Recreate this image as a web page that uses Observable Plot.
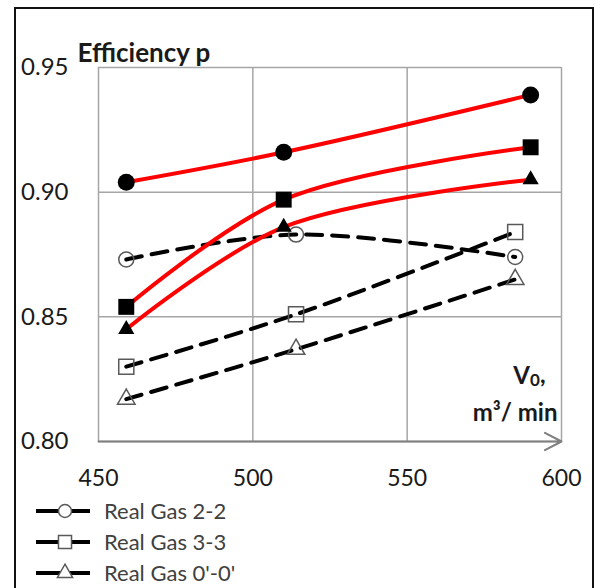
<!DOCTYPE html>
<html><head><meta charset="utf-8">
<script src="https://cdn.jsdelivr.net/npm/d3@7"></script>
<script src="https://cdn.jsdelivr.net/npm/@observablehq/plot@0.6"></script>
<style>
body{margin:0;background:#fff;font-family:Lato,sans-serif;}
#wrap{position:relative;width:595px;height:588px;overflow:hidden;}
#frame{position:absolute;left:14px;top:7px;width:580px;height:600px;border:2px solid #111;box-sizing:border-box;}
#chart{position:absolute;left:0;top:0;}
#legend{position:absolute;left:0;top:495px;}
</style></head><body>
<div id="wrap"><div id="frame"></div><div id="chart"></div><div id="legend"></div></div>
<script>
// ---- data ----
const xTicks = [450, 500, 550, 600];
const yTicks = [0.80, 0.85, 0.90, 0.95];
const symbols = ["circle", "square", "triangle"];
const idealNames = ["Ideal Gas 2-2", "Ideal Gas 3-3", "Ideal Gas 0'-0'"];
const realNames = ["Real Gas 2-2", "Real Gas 3-3", "Real Gas 0'-0'"];
const idealX = [459, 510, 590];
const ideal22 = [0.904, 0.916, 0.939];
const ideal33 = [0.854, 0.897, 0.918];
const ideal00 = [0.845, 0.886, 0.905];
const realX = [459, 514, 585];
const real22 = [0.873, 0.883, 0.874];
const real33 = [0.830, 0.851, 0.884];
const real00 = [0.817, 0.837, 0.865];

const idealVals = [ideal22, ideal33, ideal00];
const realVals = [real22, real33, real00];
const idealRows = idealVals.flatMap((vals, i) => vals.map((v, j) => ({series: idealNames[i], k: i, x: idealX[j], y: v})));
const realRows = realVals.flatMap((vals, i) => vals.map((v, j) => ({series: realNames[i], k: i, x: realX[j], y: v})));

const filledR = [8.5, 9, 6];
const openR = [7.5, 8.5, 6.5];
const gridStyle = {stroke: "#a6a6a6", strokeOpacity: 1, strokeWidth: 1.5};

const chart = Plot.plot({
  width: 595, height: 495,
  marginLeft: 98, marginRight: 34, marginTop: 67, marginBottom: 54,
  style: {fontFamily: "Lato, sans-serif", fontSize: "23px", color: "#1a1a1a", background: "transparent"},
  x: {domain: [450, 600], label: null},
  y: {domain: [0.80, 0.95], label: null},
  marks: [
    Plot.gridX(xTicks, gridStyle),
    Plot.gridY(yTicks, gridStyle),
    Plot.arrow([{x1: 450, x2: 600, y: 0.80}], {x1: "x1", x2: "x2", y1: "y", y2: "y", stroke: "#7f7f7f", strokeWidth: 2, headLength: 14, headAngle: 55}),
    Plot.axisX(xTicks, {tickSize: 0, tickPadding: 28, label: null, fontSize: 23}),
    Plot.axisY(yTicks, {tickSize: 0, tickPadding: 30, label: null, fontSize: 24, tickFormat: d => d.toFixed(2)}),
    Plot.line(realRows, {x: "x", y: "y", z: "series", stroke: "#000", strokeWidth: 4, strokeDasharray: "16,10", curve: "catmull-rom"}),
    ...symbols.map((s, i) => Plot.dot(realRows.filter(d => d.k === i), {x: "x", y: "y", symbol: s, r: openR[i], fill: "none", stroke: "#595959", strokeWidth: 1.5})),
    Plot.line(idealRows, {x: "x", y: "y", z: "series", stroke: "#ff0000", strokeWidth: 4, curve: "catmull-rom"}),
    ...symbols.map((s, i) => Plot.dot(idealRows.filter(d => d.k === i), {x: "x", y: "y", symbol: s, r: filledR[i], fill: "#000", stroke: "none"})),
    Plot.text(["Efficiency p"], {frameAnchor: "top-left", dx: -21, dy: -24, textAnchor: "start", fontWeight: "bold", fontSize: 26}),
    Plot.text(["V"], {frameAnchor: "bottom-right", dx: -16, dy: -58, textAnchor: "end", fontWeight: "bold", fontSize: 24, className: "vlabel"}),
    Plot.text(["m\u00b3/ min"], {frameAnchor: "bottom-right", dx: -4, dy: -21, textAnchor: "end", fontWeight: "bold", fontSize: 24})
  ]
});
document.getElementById("chart").appendChild(chart);
// subscript for V0
d3.select(chart).selectAll(".vlabel text").each(function () {
  const t = d3.select(this);
  t.text(null);
  t.append("tspan").text("V");
  t.append("tspan").attr("font-size", 17).attr("dy", "0.12em").text("0");
  t.append("tspan").attr("dy", "-0.12em").text(",");
});

// ---- legend ----
const leg = d3.select("#legend").append("svg").attr("width", 595).attr("height", 93);
const symMap = {circle: d3.symbolCircle, square: d3.symbolSquare, triangle: d3.symbolTriangle};
realNames.forEach((name, i) => {
  const cy = 16 + 31 * i;
  const g = leg.append("g").attr("transform", `translate(0,${cy})`);
  g.append("line").attr("x1", 36).attr("x2", 90).attr("y1", 0).attr("y2", 0).attr("stroke", "#000").attr("stroke-width", 4);
  g.append("path").attr("transform", "translate(65,0)")
    .attr("d", d3.symbol(symMap[symbols[i]], Math.PI * openR[i] * openR[i] * 0.75)())
    .attr("fill", "#fff").attr("stroke", "#595959").attr("stroke-width", 1.5);
  g.append("text").attr("x", 104).attr("y", 0).attr("dy", "0.35em")
    .attr("font-family", "Lato, sans-serif").attr("font-size", 22).attr("fill", "#404040").text(name);
});
</script>
</body></html>
